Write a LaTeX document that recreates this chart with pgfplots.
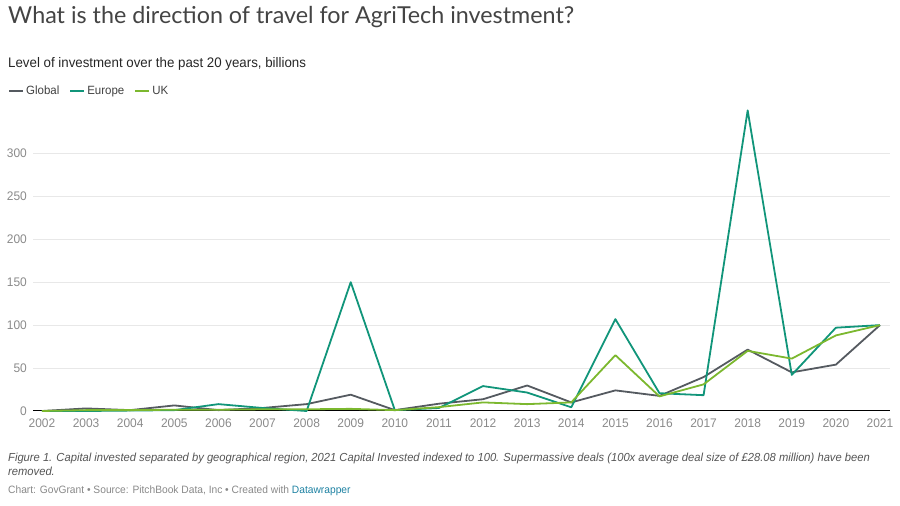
\documentclass[border=0pt]{standalone}
\usepackage{pgfplots}
\pgfplotsset{compat=1.18}
\usepackage{fontspec}
\setmainfont{Liberation Sans}[FakeStretch=0.96]
\newfontfamily\titlefont{Lato}
\definecolor{cglobal}{HTML}{555A60}
\definecolor{ceurope}{HTML}{11957A}
\definecolor{cuk}{HTML}{7CB82F}
\definecolor{ctext}{HTML}{444444}
\definecolor{ctick}{HTML}{8A8A8A}
\definecolor{cgrid}{HTML}{E8E8E8}
\definecolor{ccap}{HTML}{555555}
\definecolor{csrc}{HTML}{888888}
\definecolor{clink}{HTML}{1D81A2}

\pgfplotstableread{
year global europe uk
2002 0 0 0
2003 3 0 1
2004 1 0.5 1
2005 6.5 1 1.5
2006 1 8 1.5
2007 3.5 3.5 2
2008 8 0 2
2009 19 150 2.5
2010 1 1 1
2011 8.5 3.5 4.5
2012 13.7 29 10
2013 29.7 21.5 8
2014 10 4.3 10
2015 24 107 65
2016 17.6 20.7 17
2017 39.5 18.4 31
2018 71.5 350 70
2019 45 42 61
2020 54 97 88
2021 100 100 100
}\datatable

\begin{document}
\begin{tikzpicture}
\useasboundingbox (0bp,0bp) rectangle (900bp,506bp);
\node[anchor=base west, inner sep=0pt, font=\titlefont\fontsize{23.4}{27}\selectfont, text=ctext] at (8bp,482bp) {What is the direction of travel for AgriTech investment?};
\node[anchor=base west, inner sep=0pt, font=\fontsize{13.9}{16}\selectfont, text=black!85] at (8bp,438bp) {Level of investment over the past 20 years, billions};
\node[anchor=base west, inner sep=0pt, align=left, font=\fontsize{11.7}{14}\selectfont\itshape, text=ccap] at (8bp,31bp) {Figure 1. Capital invested separated by geographical region, 2021 Capital Invested indexed to 100. Supermassive deals (100x average deal size of £28.08 million) have been\\removed.};
\node[anchor=base west, inner sep=0pt, font=\fontsize{10.7}{12}\selectfont, text=csrc] at (8bp,13bp) {Chart: GovGrant \textbullet{} Source: PitchBook Data, Inc \textbullet{} Created with \textcolor{clink}{Datawrapper}};
\begin{axis}[
  at={(33bp,95bp)}, anchor=south west,
  scale only axis, width=857bp, height=300.6bp,
  xmin=2001.796, xmax=2021.227, ymin=0, ymax=350,
  clip=false,
  axis line style={draw=none},
  major tick length=0pt,
  xtick={2002,2003,...,2021},
  ytick={50,100,...,300},
  extra y ticks={0},
  extra y tick style={grid style={black, line width=1bp}},
  ymajorgrids, grid style={cgrid, line width=1bp},
  /pgf/number format/assume math mode=true,
  /pgf/number format/1000 sep={},
  tick label style={font=\fontsize{12.5}{14}\selectfont, text=ctick},
  x tick label style={inner sep=0pt, anchor=north, yshift=-8bp},
  y tick label style={inner sep=0pt, anchor=east, xshift=-6bp},
  legend columns=-1,
  legend style={at={(-0.0292,1.0656)}, anchor=west, draw=none, fill=none,
    font=\fontsize{12}{14}\selectfont, text=black!75, inner sep=0pt,
    /tikz/every even column/.append style={column sep=8bp}},
  legend image code/.code={\draw[line width=2bp] (0bp,0bp) -- (14bp,0bp);},
  every axis plot/.append style={line width=1.8bp, line join=round},
]
\addplot[cglobal] table[x=year, y=global] {\datatable};
\addlegendentry{Global}
\addplot[ceurope] table[x=year, y=europe] {\datatable};
\addlegendentry{Europe}
\addplot[cuk] table[x=year, y=uk] {\datatable};
\addlegendentry{UK}
\end{axis}
\end{tikzpicture}
\end{document}
